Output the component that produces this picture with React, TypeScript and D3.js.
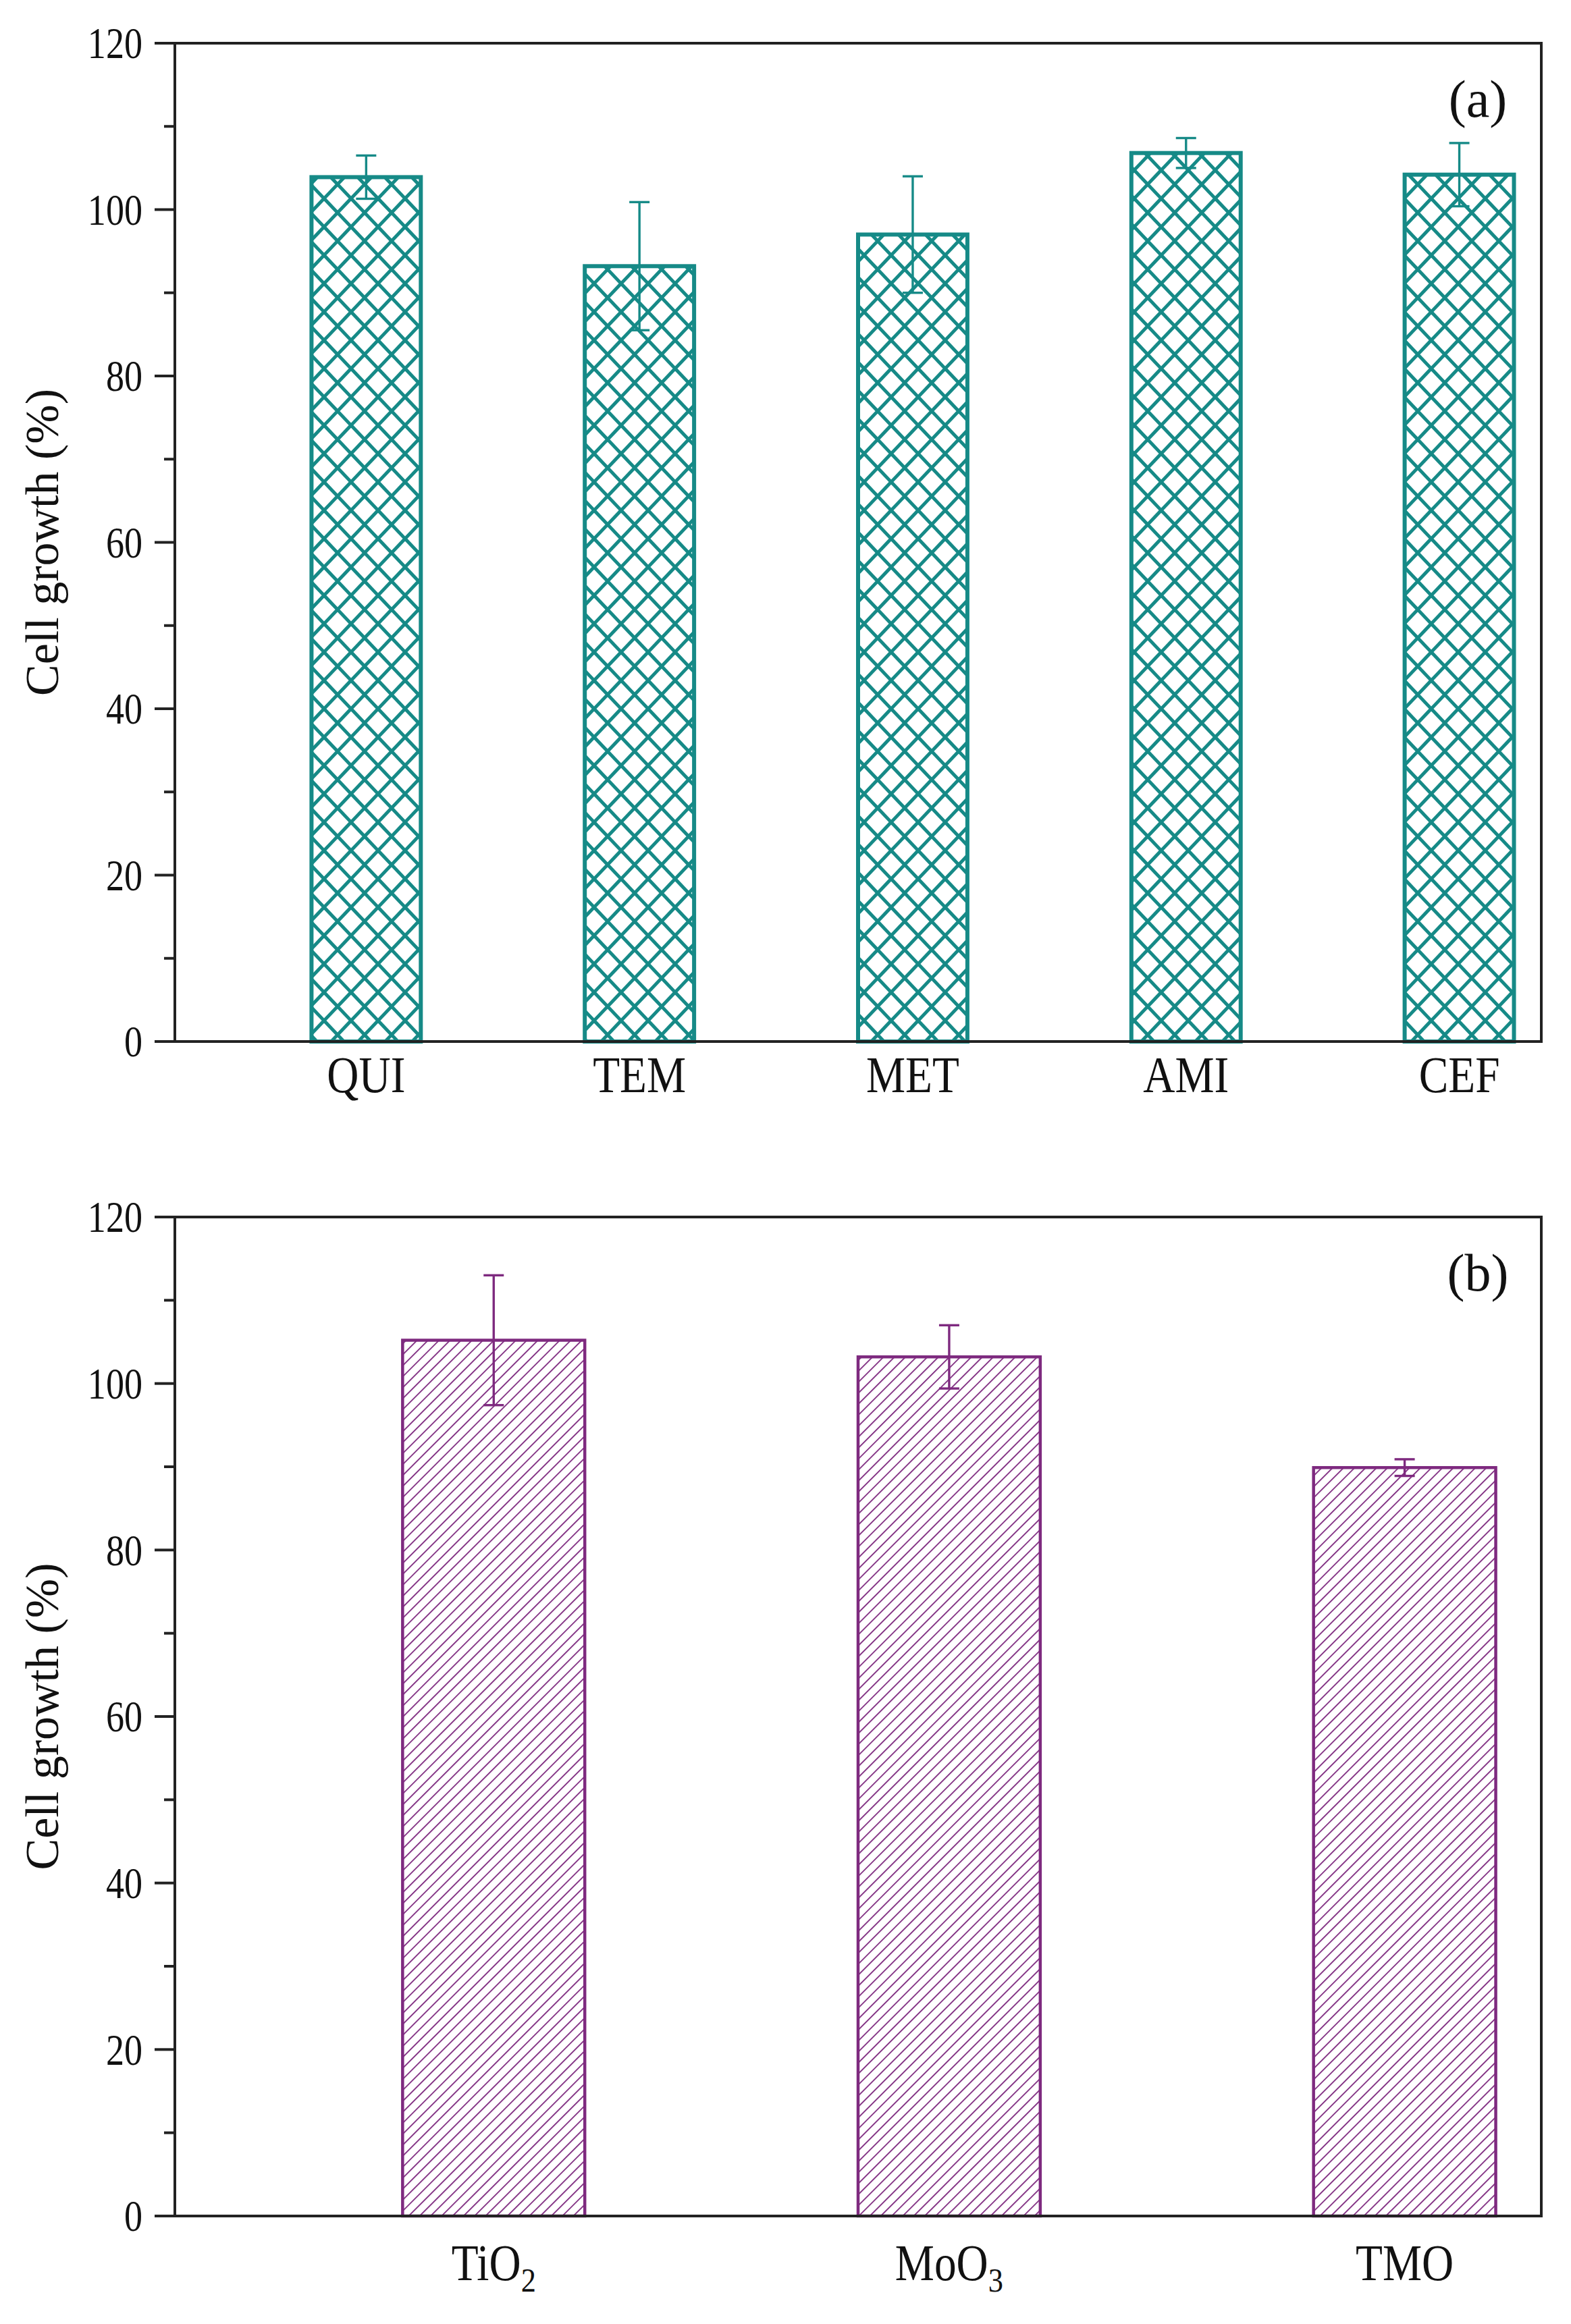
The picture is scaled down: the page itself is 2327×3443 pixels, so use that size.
import * as d3 from "d3";
import React from "react";

// panel (a): drugs
const drugCats = ["QUI", "TEM", "MET", "AMI", "CEF"];
const drugVals = [103.9, 93.2, 97.0, 106.8, 104.2];
const drugErr = [2.6, 7.7, 7.0, 1.8, 3.8];

// panel (b): oxides
const oxideCats = ["TiO2", "MoO3", "TMO"];
const oxideVals = [105.2, 103.2, 89.9];
const oxideErr = [7.8, 3.8, 1.0];

const majorTicks = [0, 20, 40, 60, 80, 100, 120];
const minorTicks = [10, 30, 50, 70, 90, 110];

const W = 2327;
const H = 3443;
const LEFT = 259;
const RIGHT = 2283;
const FONT = "'Liberation Serif', 'Times New Roman', serif";
const AXIS = "#222";

// split trailing digits into subscripts
function chemLabel(s: string, fs: number) {
  const m = s.match(/^(.*?)(\d+)$/);
  if (!m) return <tspan>{s}</tspan>;
  return (
    <>
      <tspan>{m[1]}</tspan>
      <tspan fontSize={fs * 0.68} dy={fs * 0.22}>{m[2]}</tspan>
    </>
  );
}

interface PanelProps {
  cats: string[];
  vals: number[];
  errs: number[];
  top: number;
  bottom: number;
  color: string;
  pattern: string;
  tag: string;
  labelGap: number;
  barStroke: number;
}

const Panel: React.FC<PanelProps> = ({ cats, vals, errs, top, bottom, color, pattern, tag, labelGap, barStroke }) => {
  const x = d3.scaleBand<string>().domain(cats).range([LEFT, RIGHT]).paddingInner(0.6).paddingOuter(0.3).align(5 / 6);
  const y = d3.scaleLinear().domain([0, 120]).range([bottom, top]);
  const bw = x.bandwidth();
  const tickFs = 66;
  const catFs = 76;
  const capW = 30;

  return (
    <g>
      {cats.map((c, i) => (
        <rect
          key={c}
          x={x(c)!}
          y={y(vals[i])}
          width={bw}
          height={y(0) - y(vals[i])}
          fill={`url(#${pattern})`}
          stroke={color}
          strokeWidth={barStroke}
        />
      ))}
      {cats.map((c, i) => {
        const cx = x(c)! + bw / 2;
        return (
          <g key={c} stroke={color} strokeWidth={3.4}>
            <line x1={cx} x2={cx} y1={y(vals[i] + errs[i])} y2={y(vals[i] - errs[i])} />
            <line x1={cx - capW / 2} x2={cx + capW / 2} y1={y(vals[i] + errs[i])} y2={y(vals[i] + errs[i])} />
            <line x1={cx - capW / 2} x2={cx + capW / 2} y1={y(vals[i] - errs[i])} y2={y(vals[i] - errs[i])} />
          </g>
        );
      })}

      {/* frame */}
      <g stroke={AXIS} strokeWidth={4} fill="none">
        <rect x={LEFT} y={top} width={RIGHT - LEFT} height={bottom - top} />
        {majorTicks.map((t) => (
          <line key={t} x1={LEFT - 30} x2={LEFT} y1={y(t)} y2={y(t)} />
        ))}
        {minorTicks.map((t) => (
          <line key={t} x1={LEFT - 16} x2={LEFT} y1={y(t)} y2={y(t)} />
        ))}
      </g>

      {majorTicks.map((t) => (
        <text
          key={t}
          transform={`translate(${LEFT - 48},${y(t) + tickFs * 0.34}) scale(0.82,1)`}
          textAnchor="end"
          fontSize={tickFs}
          fontFamily={FONT}
          fill="#111"
        >
          {t}
        </text>
      ))}

      {cats.map((c) => (
        <text
          key={c}
          transform={`translate(${x(c)! + bw / 2},${bottom + labelGap}) scale(0.86,1)`}
          textAnchor="middle"
          fontSize={catFs}
          fontFamily={FONT}
          fill="#111"
        >
          {chemLabel(c, catFs)}
        </text>
      ))}

      <text
        transform={`translate(86,${(top + bottom) / 2}) rotate(-90)`}
        textAnchor="middle"
        fontSize={70}
        fontFamily={FONT}
        fill="#111"
      >
        Cell growth (%)
      </text>

      <text x={2189} y={top + 109} textAnchor="middle" fontSize={78} fontFamily={FONT} fill="#111">
        {tag}
      </text>
    </g>
  );
};

const App: React.FC = () => {
  const teal = "#168a87";
  const purple = "#7e2a7f";
  const tw = 40;
  const th = 42;
  return (
    <svg width={W} height={H} style={{ position: "absolute", left: 0, top: 0, background: "#fff" }}>
      <defs>
        <pattern id="cross" patternUnits="userSpaceOnUse" width={tw} height={th}>
          <rect width={tw} height={th} fill="#fff" />
          <path
            d={`M${-tw},0L0,${th}M0,0L${tw},${th}M${tw},0L${2 * tw},${th}M${tw},0L0,${th}M0,0L${-tw},${th}M${2 * tw},0L${tw},${th}`}
            stroke={teal}
            strokeWidth={5}
            fill="none"
          />
        </pattern>
        <pattern id="hatch" patternUnits="userSpaceOnUse" width={11.5} height={20} patternTransform="rotate(45)">
          <rect width={11.5} height={20} fill="#fff" />
          <line x1={0} x2={0} y1={0} y2={20} stroke={purple} strokeWidth={3.6} />
        </pattern>
      </defs>
      <rect width={W} height={H} fill="#fff" />
      <Panel
        cats={drugCats}
        vals={drugVals}
        errs={drugErr}
        top={64}
        bottom={1543}
        color={teal}
        pattern="cross"
        tag="(a)"
        labelGap={75}
        barStroke={6}
      />
      <Panel
        cats={oxideCats}
        vals={oxideVals}
        errs={oxideErr}
        top={1803}
        bottom={3283}
        color={purple}
        pattern="hatch"
        tag="(b)"
        labelGap={95}
        barStroke={4.5}
      />
    </svg>
  );
};

export default App;
